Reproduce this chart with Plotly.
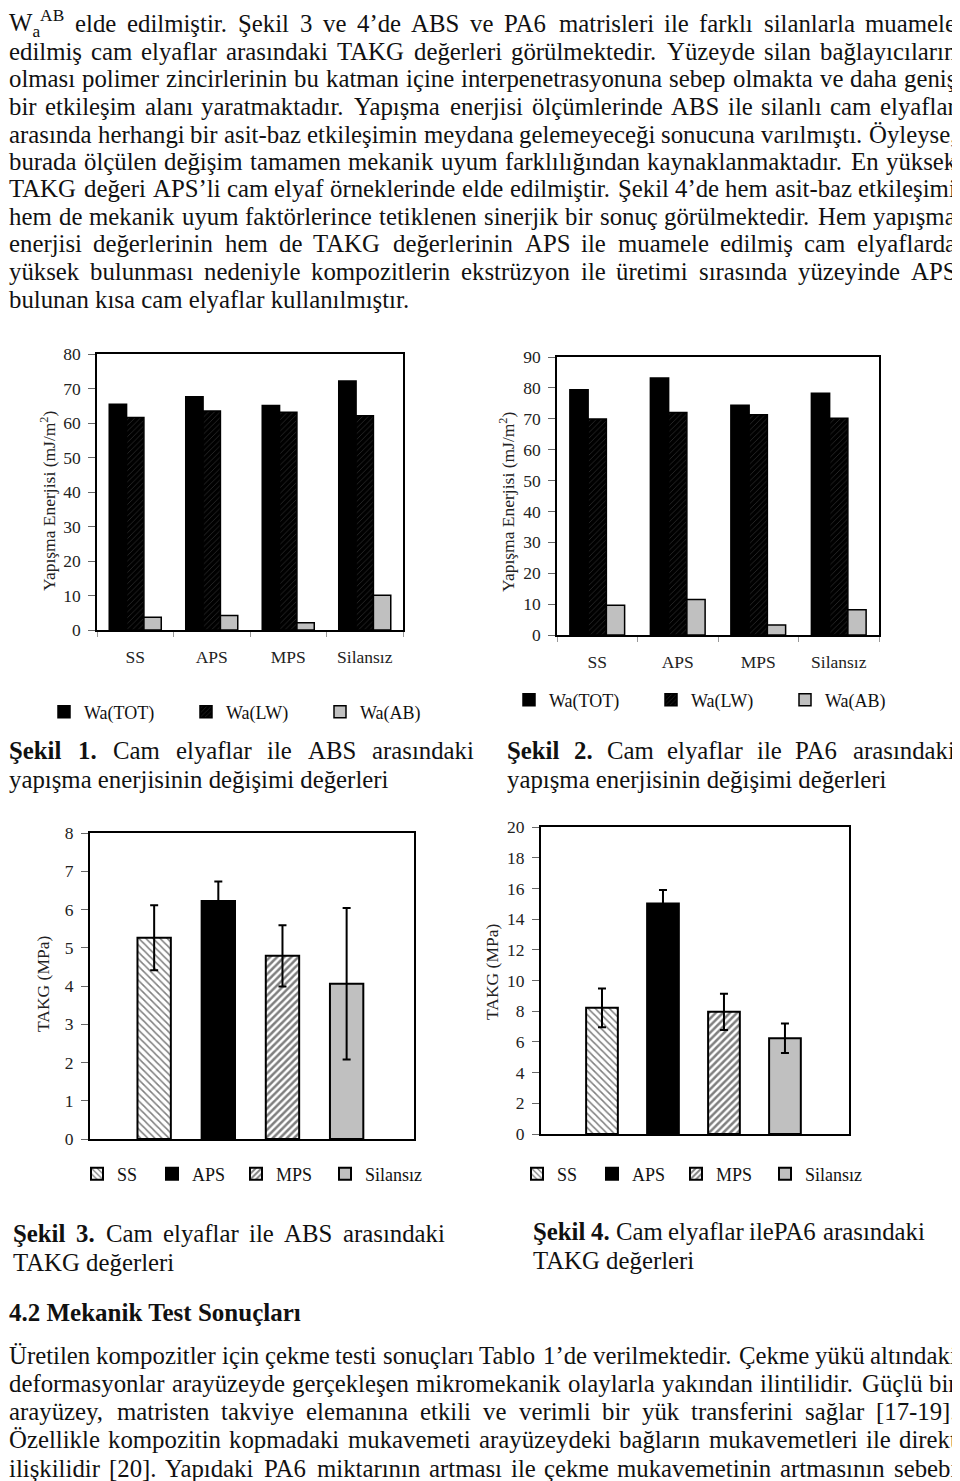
import re
import unicodedata

import plotly.graph_objects as go

FONT = "Liberation Serif"
# positions below are page pixels; the page body keeps an 8px margin round the plot
PAGE_W, PAGE_H = 960, 1481
OX, OY = 8, 8
FIG_W, FIG_H = PAGE_W - OX, PAGE_H - OY

# --- chart data -------------------------------------------------------------
silanes = ["SS", "APS", "MPS", "Silansız"]

# Şekil 1: ABS, yapışma enerjisi (mJ/m2)
abs_wa_tot = [65.4, 67.6, 65.1, 72.2]
abs_wa_lw = [61.6, 63.5, 63.1, 62.1]
abs_wa_ab = [3.7, 4.2, 2.1, 10.1]

# Şekil 2: PA6, yapışma enerjisi (mJ/m2)
pa6_wa_tot = [79.4, 83.2, 74.4, 78.3]
pa6_wa_lw = [69.9, 72.0, 71.3, 70.2]
pa6_wa_ab = [9.6, 11.5, 3.2, 8.2]

# Şekil 3 / 4: TAKG (MPa) with error bars
takg_pos = [1, 2, 3, 4]
abs_takg = [5.26, 6.22, 4.79, 4.06]
abs_takg_err = [0.85, 0.51, 0.80, 1.98]
pa6_takg = [8.22, 15.02, 7.96, 6.24]
pa6_takg_err = [1.26, 0.87, 1.18, 0.96]

# --- page text --------------------------------------------------------------
top_lines = [
    "W<sub>a</sub><sup>AB</sup> elde edilmiştir. Şekil 3 ve 4’de ABS ve PA6 matrisleri ile farklı silanlarla muamele",
    "edilmiş cam elyaflar arasındaki TAKG değerleri görülmektedir. Yüzeyde silan bağlayıcıların",
    "olması polimer zincirlerinin bu katman içine interpenetrasyonuna sebep olmakta ve daha geniş",
    "bir etkileşim alanı yaratmaktadır. Yapışma enerjisi ölçümlerinde ABS ile silanlı cam elyaflar",
    "arasında herhangi bir asit-baz etkileşimin meydana gelemeyeceği sonucuna varılmıştı. Öyleyse,",
    "burada ölçülen değişim tamamen mekanik uyum farklılığından kaynaklanmaktadır. En yüksek",
    "TAKG değeri APS’li cam elyaf örneklerinde elde edilmiştir. Şekil 4’de hem asit-baz etkileşimi",
    "hem de mekanik uyum faktörlerince tetiklenen sinerjik bir sonuç görülmektedir. Hem yapışma",
    "enerjisi değerlerinin hem de TAKG değerlerinin APS ile muamele edilmiş cam elyaflarda",
    "yüksek bulunması nedeniyle kompozitlerin ekstrüzyon ile üretimi sırasında yüzeyinde APS",
    "bulunan kısa cam elyaflar kullanılmıştır.",
]
section_title = "<b>4.2 Mekanik Test Sonuçları</b>"
bottom_lines = [
    "Üretilen kompozitler için çekme testi sonuçları Tablo 1’de verilmektedir. Çekme yükü altındaki",
    "deformasyonlar arayüzeyde gerçekleşen mikromekanik olaylarla yakından ilintilidir. Güçlü bir",
    "arayüzey, matristen takviye elemanına etkili ve verimli bir yük transferini sağlar [17-19].",
    "Özellikle kompozitin kopmadaki mukavemeti arayüzeydeki bağların mukavemetleri ile direkt",
    "ilişkilidir [20]. Yapıdaki PA6 miktarının artması ile çekme mukavemetinin artmasının sebebi",
]
captions = [
    ("<b>Şekil</b> <b>1.</b> Cam elyaflar ile ABS arasındaki", "yapışma enerjisinin değişimi değerleri"),
    ("<b>Şekil</b> <b>2.</b> Cam elyaflar ile PA6 arasındaki", "yapışma enerjisinin değişimi değerleri"),
    ("<b>Şekil</b> <b>3.</b> Cam elyaflar ile ABS arasındaki", "TAKG değerleri"),
    ("<b>Şekil</b> <b>4.</b> Cam elyaflar ilePA6 arasındaki", "TAKG değerleri"),
]
energy_title = "Yapışma Enerjisi (mJ/m<sup>2</sup>)"
takg_title = "TAKG (MPa)"

BODY = 24.8

# Times metrics (Liberation Serif is metric compatible), used to justify lines
GLYPH_W = dict(zip("abcdefghijklmnopqrstuvwxyz",
                   [444, 500, 444, 500, 444, 333, 500, 500, 278, 278, 500, 278, 778,
                    500, 500, 500, 500, 333, 389, 278, 500, 500, 722, 500, 500, 444]))
GLYPH_W.update(zip("ABCDEFGHIJKLMNOPQRSTUVWXYZ",
                   [722, 667, 667, 722, 611, 556, 722, 722, 333, 389, 722, 611, 889,
                    722, 722, 556, 722, 667, 556, 611, 722, 722, 944, 722, 722, 611]))
GLYPH_W.update({" ": 250, ",": 250, ".": 250, "-": 333, "(": 333, ")": 333, "[": 333,
                "]": 333, "’": 333, "'": 333, ":": 278, "/": 278, "ı": 278})
GLYPH_W.update({d: 500 for d in "0123456789"})
SUBSUP = re.compile(r"<(sub|sup)>(.*?)</\1>")


def px(x):
    return (x - OX) / FIG_W


def py(y):
    return 1 - (y - OY) / FIG_H


def glyph(ch):
    if ch in GLYPH_W:
        return GLYPH_W[ch]
    return GLYPH_W.get(unicodedata.normalize("NFD", ch)[0], 500)


def measure(word, size):
    bold = "<b>" in word
    plain = word.replace("<b>", "").replace("</b>", "")
    small = sum(glyph(c) for m in SUBSUP.finditer(plain) for c in m.group(2))
    main = sum(glyph(c) for c in SUBSUP.sub("", plain))
    return (main + 0.7 * small) * size / 1000 * (1.04 if bold else 1.0)


def text_ann(text, x_px, y_px, size=BODY):
    return dict(
        text=text, x=px(x_px), y=py(y_px), xref="paper", yref="paper",
        xanchor="left", yanchor="middle", showarrow=False, borderpad=0, borderwidth=0,
        font=dict(family=FONT, size=size, color="#111"),
    )


def set_line(text, left, right, y, justify=True, size=BODY):
    if not justify:
        return [text_ann(text, left, y, size)]
    words = text.split(" ")
    widths = [measure(w, size) for w in words]
    gap = max((right - left - sum(widths)) / (len(words) - 1), 0.2 * size)
    out, x = [], left
    for word, width in zip(words, widths):
        out.append(text_ann(word, x, y, size))
        x += width + gap
    return out


annotations = []
for i, line in enumerate(top_lines):
    annotations += set_line(line, 9, 956, 24 + 27.5 * i, justify=i < len(top_lines) - 1)
annotations += set_line(section_title, 9, 0, 1312, justify=False, size=25)
for i, line in enumerate(bottom_lines):
    annotations += set_line(line, 9, 957, 1355 + 28.25 * i)

caption_boxes = [(9, 474, 750), (507, 955, 750), (13, 445, 1233), (533, 925, 1231)]
for (first, second), (left, right, y) in zip(captions, caption_boxes):
    annotations += set_line(first, left, right, y)
    annotations += set_line(second, left, right, y + 29, justify=False)

for title, x_px, y_px in [(energy_title, 48, 501), (energy_title, 507, 502),
                          (takg_title, 43, 984), (takg_title, 492, 972)]:
    annotations.append(dict(
        text=title, x=px(x_px), y=py(y_px), xref="paper", yref="paper",
        xanchor="center", yanchor="middle", textangle=-90, showarrow=False,
        font=dict(family=FONT, size=17.5, color="#222"),
    ))

# --- figure -----------------------------------------------------------------
fig = go.Figure()

outline = dict(color="black", width=1.5)
energy_series = [
    ("Wa(TOT)", dict(color="black")),
    ("Wa(LW)", dict(color="black", pattern=dict(shape="/", fgcolor="white", bgcolor="black",
                                                 size=4, solidity=0.07))),
    ("Wa(AB)", dict(color="#c0c0c0")),
]
energy_sets = [
    ([abs_wa_tot, abs_wa_lw, abs_wa_ab], "x", "y", "legend"),
    ([pa6_wa_tot, pa6_wa_lw, pa6_wa_ab], "x2", "y2", "legend2"),
]
energy_widths = [97, 89, 60]
for values, xa, ya, legend in energy_sets:
    for (name, marker), vals, lw in zip(energy_series, values, energy_widths):
        fig.add_trace(go.Bar(
            x=silanes, y=vals, name=name, xaxis=xa, yaxis=ya, legend=legend,
            marker=dict(**marker, line=outline), legendwidth=lw,
        ))

takg_markers = [
    dict(color="white", pattern=dict(shape="\\", fgcolor="black", bgcolor="white", size=5, solidity=0.3)),
    dict(color="black"),
    dict(color="white", pattern=dict(shape="/", fgcolor="black", bgcolor="white", size=5, solidity=0.5)),
    dict(color="#c0c0c0"),
]
takg_widths = [30, 39, 44, 70]
takg_sets = [
    (abs_takg, abs_takg_err, "x3", "y3", "legend3"),
    (pa6_takg, pa6_takg_err, "x4", "y4", "legend4"),
]
for vals, errs, xa, ya, legend in takg_sets:
    for i, name in enumerate(silanes):
        fig.add_trace(go.Bar(
            x=[takg_pos[i]], y=[vals[i]], name=name, xaxis=xa, yaxis=ya, legend=legend,
            width=0.52, offsetgroup="takg", legendwidth=takg_widths[i],
            marker=dict(**takg_markers[i], line=dict(color="black", width=2)),
            error_y=dict(type="data", array=[errs[i]], color="black", thickness=2, width=4),
        ))


def dom_x(a, b):
    return [px(a), px(b)]


def dom_y(top, bottom):
    return [py(bottom), py(top)]


tick_font = dict(family=FONT, size=17.5, color="#222")
frame = dict(showline=True, linecolor="black", mirror=True, showgrid=False, zeroline=False,
             automargin=False)
y_common = dict(**frame, ticks="outside", ticklen=7, tickcolor="#666", tickwidth=1,
                tickfont=tick_font, ticklabelstandoff=4)
x_cat = dict(**frame, type="category", ticks="outside", tickson="boundaries", ticklen=5,
             tickcolor="#999", tickfont=tick_font, ticklabelstandoff=10, linewidth=1.5)
x_num = dict(**frame, range=[0, 5.05], tickmode="array", tickvals=[], showticklabels=False,
             ticks="", linewidth=2)

legend_common = dict(orientation="h", xanchor="left", yanchor="middle", bgcolor="rgba(0,0,0,0)",
                     font=dict(family=FONT, size=18, color="#111"), itemwidth=30,
                     traceorder="normal", itemclick=False)

fig.update_layout(
    width=FIG_W,
    height=FIG_H,
    margin=dict(l=0, r=0, t=0, b=0, autoexpand=False),
    paper_bgcolor="white",
    plot_bgcolor="white",
    font=dict(family=FONT),
    barmode="group",
    bargap=0.32,
    bargroupgap=0,
    showlegend=True,
    annotations=annotations,
    xaxis=dict(domain=dom_x(97, 403), anchor="y", **x_cat),
    yaxis=dict(domain=dom_y(354, 630), anchor="x", range=[0, 80], dtick=10, linewidth=1.5, **y_common),
    xaxis2=dict(domain=dom_x(557, 879), anchor="y2", **x_cat),
    yaxis2=dict(domain=dom_y(357, 635), anchor="x2", range=[0, 90], dtick=10, linewidth=1.5, **y_common),
    xaxis3=dict(domain=dom_x(90, 414), anchor="y3", **x_num),
    yaxis3=dict(domain=dom_y(833, 1139), anchor="x3", range=[0, 8], dtick=1, linewidth=2, **y_common),
    xaxis4=dict(domain=dom_x(541, 849), anchor="y4", **x_num),
    yaxis4=dict(domain=dom_y(827, 1134), anchor="x4", range=[0, 20], dtick=2, linewidth=2, **y_common),
    legend=dict(x=px(44), y=py(712), **legend_common),
    legend2=dict(x=px(509), y=py(700), **legend_common),
    legend3=dict(x=px(77), y=py(1174), **legend_common),
    legend4=dict(x=px(517), y=py(1174), **legend_common),
)

fig.write_html("out.html")
